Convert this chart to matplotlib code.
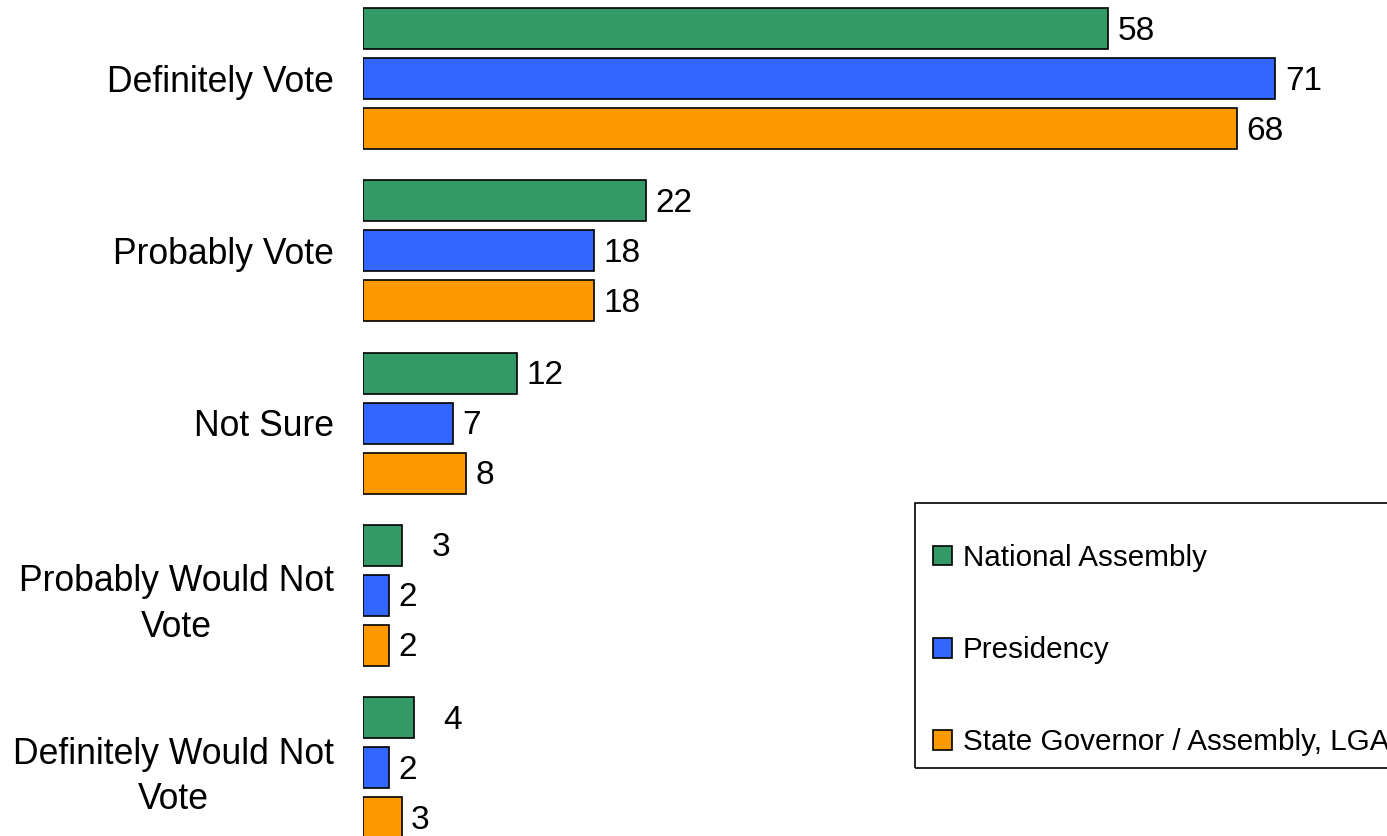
import matplotlib
matplotlib.use("Agg")
import matplotlib.pyplot as plt
from matplotlib.patches import Rectangle
import numpy as np

plt.rcParams['font.family'] = ['Liberation Sans', 'DejaVu Sans']

categories = ["Definitely Vote", "Probably Vote", "Not Sure",
              "Probably Would Not\nVote", "Definitely Would Not\nVote"]
series_names = ["National Assembly", "Presidency", "State Governor / Assembly, LGA"]
national = [58, 22, 12, 3, 4]
presidency = [71, 18, 7, 2, 2]
state = [68, 18, 8, 2, 3]

colors = ['#339966', '#3366FF', '#FF9900']
# extra gap (in x units) used by the original for a few labels
label_nudge = [[0, 0, 0, 1.6, 1.5], [0] * 5, [0] * 5]

W, H = 1387, 836
fig = plt.figure(figsize=(W / 100, H / 100), dpi=100)
ax = fig.add_axes([363 / W, 0, 1 - 363 / W, 1])

period = 172.25
ypos = np.arange(len(categories))
offsets = [-50 / period, 0.0, 50 / period]
bar_h = 41 / period

for k, (vals, off, col, name) in enumerate(zip([national, presidency, state], offsets, colors, series_names)):
    bars = ax.barh(ypos + off, vals, height=bar_h, color=col, edgecolor='black',
                   linewidth=1.2, label=name)
    for j, (b, v) in enumerate(zip(bars, vals)):
        ax.text(b.get_width() + 0.75 + label_nudge[k][j], b.get_y() + b.get_height() / 2 + 0.015,
                str(v), ha='left', va='center', fontsize=24, color='black')

ax.set_xlim(0, (W - 363) / 12.85)
ax.set_ylim((H - 78.5) / period, -78.5 / period)
ax.set_yticks(ypos)
ax.set_yticklabels(categories, fontsize=25.6, ha='right', multialignment='center',
                   linespacing=1.38)
ax.tick_params(axis='y', length=0, pad=21)
ax.set_xticks([])
for s in ax.spines.values():
    s.set_visible(False)

# legend box runs off the right edge
fig.patches.append(Rectangle((915 / W, 1 - 768 / H), 600 / W, 265 / H,
                             transform=fig.transFigure, fill=False,
                             edgecolor='black', linewidth=1.2))
handles, labels = ax.get_legend_handles_labels()
leg = fig.legend(handles, labels, loc='upper left', bbox_to_anchor=(933 / W, 1 - 544 / H),
                 frameon=False, fontsize=21.3, labelspacing=2.17,
                 handlelength=0.65, handleheight=0.65, handletextpad=0.35,
                 borderpad=0, borderaxespad=0)

fig.savefig("out.png", dpi=100)
